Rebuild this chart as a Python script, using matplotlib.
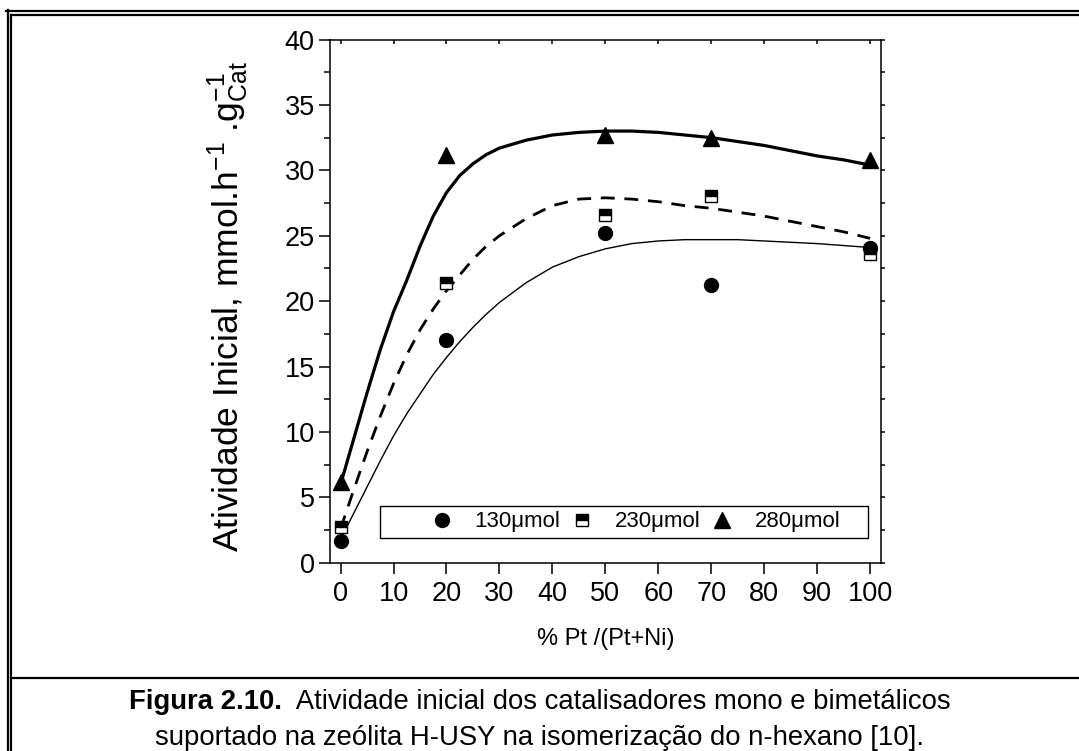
import matplotlib
matplotlib.use("Agg")
import matplotlib.pyplot as plt
from matplotlib.lines import Line2D
from matplotlib.patches import Rectangle
from matplotlib.ticker import MultipleLocator

plt.rcParams['font.family'] = ['Liberation Sans', 'DejaVu Sans']
plt.rcParams['mathtext.fontset'] = 'custom'
plt.rcParams['mathtext.rm'] = 'Liberation Sans'
plt.rcParams['mathtext.it'] = 'Liberation Sans'
plt.rcParams['mathtext.sf'] = 'Liberation Sans'

# ---- data ----
x_pts = [0, 20, 50, 70, 100]
y130 = [1.7, 17.0, 25.2, 21.2, 24.1]
y230 = [2.7, 21.4, 26.6, 28.0, 23.6]
y280 = [6.2, 31.2, 32.7, 32.5, 30.8]

curve_x = [0, 2.5, 5, 7.5, 10, 12.5, 15, 17.5, 20, 22.5, 25, 27.5, 30, 35, 40, 45,
           50, 55, 60, 65, 70, 75, 80, 85, 90, 95, 100]
curve130 = [1.8, 3.8, 5.8, 7.8, 9.7, 11.4, 12.9, 14.4, 15.7, 16.9, 18.0, 19.0, 19.9,
            21.4, 22.6, 23.4, 24.0, 24.4, 24.6, 24.7, 24.7, 24.7, 24.6, 24.5,
            24.4, 24.25, 24.1]
curve230 = [2.6, 5.6, 8.5, 11.2, 13.7, 15.9, 17.8, 19.4, 20.8, 22.0, 23.2, 24.2, 25.0,
            26.3, 27.3, 27.8, 27.9, 27.8, 27.6, 27.3, 27.1, 26.8, 26.5, 26.1,
            25.7, 25.3, 24.8]
curve280 = [6.0, 9.5, 13.0, 16.3, 19.2, 21.6, 24.2, 26.5, 28.3, 29.6, 30.5, 31.2, 31.7,
            32.3, 32.7, 32.9, 33.0, 33.0, 32.9, 32.7, 32.5, 32.2, 31.9, 31.5,
            31.1, 30.8, 30.4]

labels = ['130\u03bcmol', '230\u03bcmol', '280\u03bcmol']
x_ticks = [0, 10, 20, 30, 40, 50, 60, 70, 80, 90, 100]
y_ticks = [0, 5, 10, 15, 20, 25, 30, 35, 40]

W, H = 1079, 751
fig = plt.figure(figsize=(W / 100, H / 100), dpi=100)
ax = fig.add_axes([330 / W, 1 - 562.8 / H, 550.7 / W, (562.8 - 39.5) / H])

ax.plot(curve_x, curve130, color='black', lw=1.0)
ax.plot(curve_x, curve230, color='black', lw=2.0, dashes=(5, 3.5))
ax.plot(curve_x, curve280, color='black', lw=2.3)

h1, = ax.plot(x_pts, y130, 'o', color='black', ms=10, ls='none', clip_on=False,
              label=labels[0])
h2, = ax.plot(x_pts, y230, 's', ms=8.5, ls='none', clip_on=False,
              markerfacecolor='black', markerfacecoloralt='white',
              fillstyle='top', markeredgecolor='black', markeredgewidth=1.0,
              label=labels[1])
h3, = ax.plot(x_pts, y280, '^', color='black', ms=11, ls='none', clip_on=False,
              label=labels[2])

ax.set_xlim(-2, 102)
ax.set_ylim(0, 40)
ax.set_xticks(x_ticks)
ax.set_yticks(y_ticks)
ax.yaxis.set_minor_locator(MultipleLocator(2.5))
for s in ax.spines.values():
    s.set_linewidth(1.1)

ax.tick_params(axis='both', which='major', direction='out', length=8, width=1.1,
               labelsize=19.5)
ax.tick_params(axis='x', which='major', pad=5)
ax.tick_params(axis='y', which='major', pad=3)
ax.tick_params(axis='y', which='minor', direction='out', length=4, width=1.1)
ax.tick_params(axis='x', which='major', top=True)
ax.tick_params(axis='y', which='both', right=True)

for t in ax.xaxis.get_major_ticks():
    t.tick2line.set_markersize(3)
    t.tick2line.set_marker(3)  # inward on top spine
for t in ax.yaxis.get_major_ticks():
    t.tick2line.set_markersize(3)
for t in ax.yaxis.get_minor_ticks():
    t.tick2line.set_markersize(3)

ax.set_xlabel('% Pt /(Pt+Ni)', fontsize=17)
ax.xaxis.set_label_coords(0.5, -0.124)
ax.set_ylabel(r'Atividade Inicial, mmol.h$^{-1}$ .g$_{\mathrm{Cat}}^{-1}$',
              fontsize=25.5, va='center')
ax.yaxis.set_label_coords(-0.186, 0.49)

# legend box + frameless legend inside
ax.add_patch(Rectangle((0.0908, 0.0474), 0.886, 0.0611, transform=ax.transAxes,
                       facecolor='white', edgecolor='black', lw=1.0, zorder=4))
leg = ax.legend(handles=[h1, h2, h3], ncol=3, loc='center left',
                bbox_to_anchor=(0.173, 0.078), borderaxespad=0, borderpad=0,
                fontsize=16, frameon=False, handletextpad=0.7,
                handlelength=1.5, columnspacing=0.25)
leg.set_zorder(5)

# figure border lines (pixel coordinates -> figure fraction)
def hline(y, x0, x1, lw=1.6):
    fig.add_artist(Line2D([x0 / W, x1 / W], [1 - y / H, 1 - y / H],
                          color='black', lw=lw, transform=fig.transFigure))

def vline(x, y0, y1, lw=1.6):
    fig.add_artist(Line2D([x / W, x / W], [1 - y0 / H, 1 - y1 / H],
                          color='black', lw=lw, transform=fig.transFigure))

hline(11, 6, W)
hline(14.5, 11, W)
vline(8, 10, H)
vline(11, 14.5, H)
hline(678, 11, W)

# caption
fig.canvas.draw()
r = fig.canvas.get_renderer()
cap_fs = 19.8
t_bold = fig.text(0, 0, 'Figura 2.10.', fontsize=cap_fs, fontweight='bold')
t_reg = fig.text(0, 0, '  Atividade inicial dos catalisadores mono e bimet\u00e1licos',
                 fontsize=cap_fs)
wb = t_bold.get_window_extent(r).width
wr = t_reg.get_window_extent(r).width
total = wb + wr
x0 = W / 2 - total / 2
ybase = 1 - 709 / H
t_bold.set_position((x0 / W, ybase))
t_reg.set_position(((x0 + wb) / W, ybase))
fig.text(0.5, 1 - 745 / H,
         'suportado na ze\u00f3lita H-USY na isomeriza\u00e7\u00e3o do n-hexano [10].',
         fontsize=cap_fs, ha='center')

fig.savefig('out.png', dpi=100)
